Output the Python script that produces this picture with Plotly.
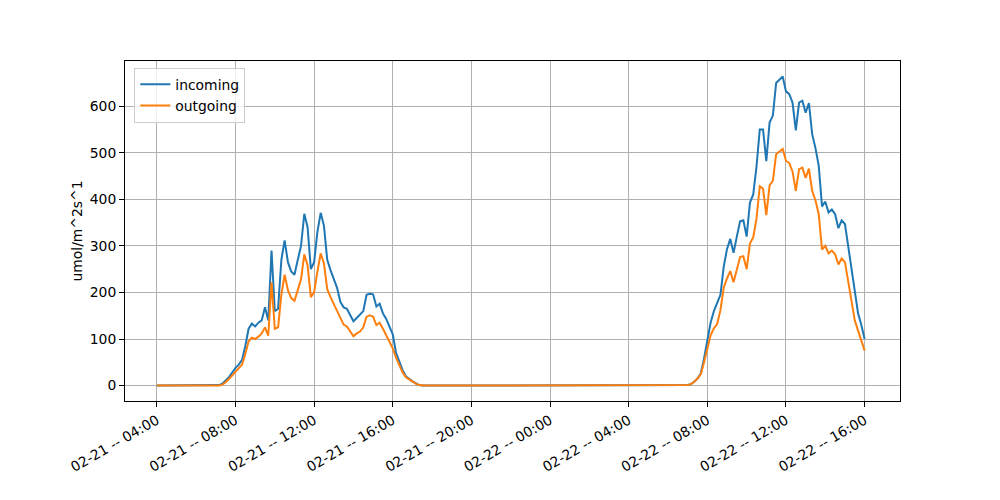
import pandas as pd
import plotly.graph_objects as go

start_time = "2024-02-21 04:00"
step = "10min"

incoming = [
    # 02-21 04:00 .. 07:00
    0, 0, 0, 0, 0, 0, 0, 0, 0, 0, 0, 0, 0, 0, 0, 0, 0, 0, 0,
    # 07:10 .. 17:30
    1, 4, 10, 18, 28, 38, 45, 55, 85, 122, 133, 127, 135, 140, 168, 140, 290, 160, 165,
    270, 312, 265, 245, 238, 270, 300, 369, 340, 250, 265, 330, 371, 343, 270, 248, 228,
    210, 180, 168, 165, 150, 138, 145, 152, 160, 195, 197, 196, 170, 176, 155, 143, 128,
    110, 70, 52, 33, 20, 14, 9, 5, 1, 0,
    # 17:40 .. 23:50
    0, 0, 0, 0, 0, 0, 0, 0, 0, 0, 0, 0, 0, 0, 0, 0, 0, 0, 0, 0, 0, 0, 0, 0, 0, 0, 0, 0,
    0, 0, 0, 0, 0, 0, 0, 0, 0, 0,
    # 02-22 00:00 .. 06:50
    0, 0, 0, 0, 0, 0, 0, 0, 0, 0, 0, 0, 0, 0, 0, 0, 0, 0, 0, 0, 0, 0, 0, 0, 0, 0, 0, 0,
    0, 0, 0, 0, 0, 0, 0, 0, 0, 0, 0, 0, 0, 0,
    # 07:00 .. 16:00
    1, 3, 8, 15, 26, 58, 99, 135, 160, 178, 195, 255, 293, 315, 285, 320, 353, 355, 320,
    393, 410, 470, 550, 550, 482, 565, 580, 650, 658, 664, 632, 626, 608, 548, 608, 612,
    586, 607, 540, 510, 472, 385, 395, 372, 378, 368, 338, 355, 347, 300, 255, 205, 155,
    130, 100,
]

outgoing = [
    # 02-21 04:00 .. 07:00
    0, 0, 0, 0, 0, 0, 0, 0, 0, 0, 0, 0, 0, 0, 0, 0, 0, 0, 0,
    # 07:10 .. 17:30
    0, 2, 7, 14, 22, 30, 37, 45, 68, 95, 103, 100, 105, 112, 125, 107, 222, 122, 125,
    195, 238, 205, 188, 182, 205, 228, 282, 258, 190, 200, 245, 284, 262, 207, 190, 175,
    160, 143, 131, 127, 115, 106, 112, 116, 125, 148, 151, 148, 130, 135, 122, 108, 95,
    80, 60, 45, 28, 18, 13, 8, 4, 1, 0,
    # 17:40 .. 23:50
    0, 0, 0, 0, 0, 0, 0, 0, 0, 0, 0, 0, 0, 0, 0, 0, 0, 0, 0, 0, 0, 0, 0, 0, 0, 0, 0, 0,
    0, 0, 0, 0, 0, 0, 0, 0, 0, 0,
    # 02-22 00:00 .. 06:50
    0, 0, 0, 0, 0, 0, 0, 0, 0, 0, 0, 0, 0, 0, 0, 0, 0, 0, 0, 0, 0, 0, 0, 0, 0, 0, 0, 0,
    0, 0, 0, 0, 0, 0, 0, 0, 0, 0, 0, 0, 0, 0,
    # 07:00 .. 16:00
    1, 3, 8, 15, 24, 50, 78, 108, 123, 132, 162, 210, 230, 246, 222, 250, 276, 278, 250,
    305, 318, 358, 428, 423, 366, 430, 440, 497, 502, 508, 483, 478, 460, 418, 465, 468,
    446, 466, 418, 398, 368, 292, 300, 284, 290, 282, 260, 273, 265, 222, 183, 140, 118,
    98, 75,
]

series_names = ["incoming", "outgoing"]
series_colors = ["#1f77b4", "#ff7f0e"]
y_title = "umol/m^2s^1"
y_ticks = [0, 100, 200, 300, 400, 500, 600]

times = pd.date_range(start_time, periods=len(incoming), freq=step)
assert len(incoming) == len(outgoing)

fig = go.Figure()
for name, vals, col in zip(series_names, [incoming, outgoing], series_colors):
    fig.add_trace(go.Scatter(x=times, y=vals, mode="lines", name=name,
                             line=dict(color=col, width=2)))

t0, t1 = times[0], times[-1]
span = t1 - t0
ymax = max(max(incoming), max(outgoing))
ymin = min(min(incoming), min(outgoing))
ypad = (ymax - ymin) * 0.05

font = dict(family="DejaVu Sans", size=13.9, color="black")
fig.update_layout(
    width=1000, height=500,
    margin=dict(l=117, r=108, t=53, b=107),
    paper_bgcolor="white", plot_bgcolor="white",
    font=font,
    showlegend=True,
    legend=dict(x=0.012, y=0.98, xanchor="left", yanchor="top",
                bgcolor="rgba(255,255,255,0.8)", bordercolor="#cccccc", borderwidth=1,
                font=font, tracegroupgap=2),
)
fig.update_xaxes(
    range=[t0 - span * 0.045, t1 + span * 0.05],
    type="date",
    tick0=start_time, dtick=4 * 3600 * 1000,
    tickformat="%m-%d -- %H:%M",
    tickangle=-30,
    automargin=False,
    showgrid=True, gridcolor="#b0b0b0", gridwidth=1,
    showline=True, linecolor="black", linewidth=1, mirror=True,
    ticks="outside", ticklen=5, tickcolor="black",
    zeroline=False,
)
fig.update_yaxes(
    range=[ymin - ypad, ymax + ypad],
    tickvals=y_ticks,
    automargin=False,
    title=dict(text=y_title, font=font, standoff=3),
    showgrid=True, gridcolor="#b0b0b0", gridwidth=1,
    showline=True, linecolor="black", linewidth=1, mirror=True,
    ticks="outside", ticklen=5, tickcolor="black",
    zeroline=False,
)

fig.write_html("out.html")
